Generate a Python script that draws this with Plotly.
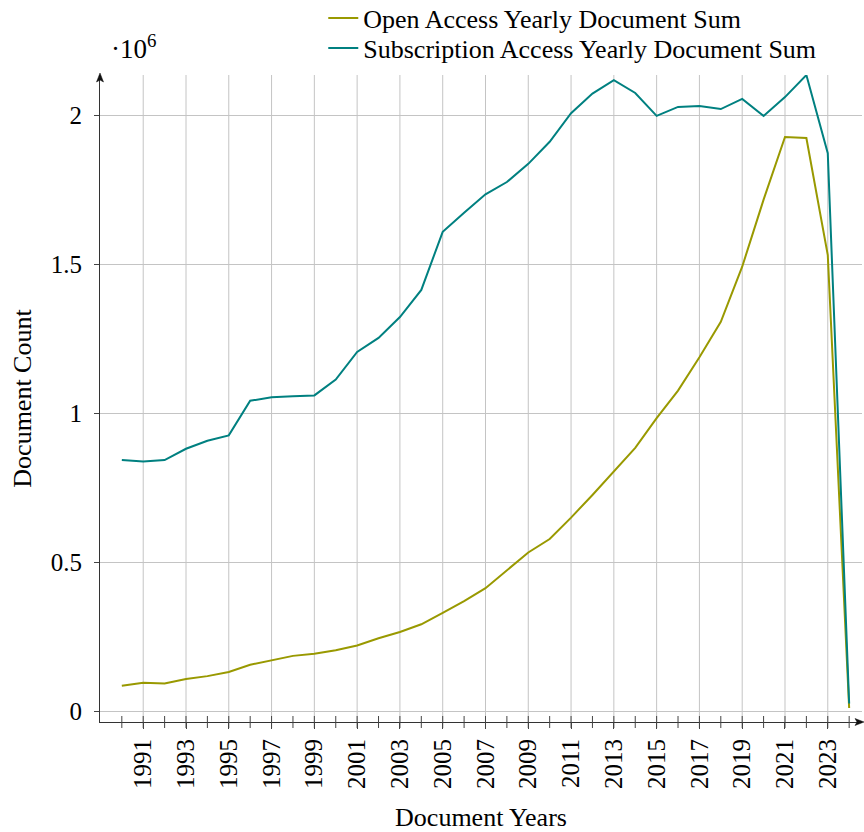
import plotly.graph_objects as go

years = list(range(1990, 2025))

open_access = [
    85000, 95000, 92000, 107000, 117000, 131000, 155000, 171000, 185000, 192000,
    204000, 220000, 244000, 265000, 291000, 329000, 369000, 412000, 472000, 532000,
    577000, 649000, 725000, 805000, 883000, 983000, 1075000, 1187000, 1306000, 1491000,
    1716000, 1926000, 1923000, 1530000, 10000,
]

subscription = [
    842000, 837000, 842000, 880000, 907000, 925000, 1041000, 1053000, 1056000, 1059000,
    1112000, 1205000, 1252000, 1322000, 1413000, 1608000, 1672000, 1734000, 1775000, 1836000,
    1910000, 2006000, 2072000, 2117000, 2074000, 1997000, 2027000, 2030000, 2020000, 2054000,
    1997000, 2060000, 2134000, 1872000, 25000,
]

x_tick_years = list(range(1991, 2024, 2))
y_tick_vals = [0, 500000, 1000000, 1500000, 2000000]
y_tick_text = ["0", "0.5", "1", "1.5", "2"]

series_names = ["Open Access Yearly Document Sum", "Subscription Access Yearly Document Sum"]
series_colors = ["#999900", "#008080"]
series_legends = ["legend", "legend2"]

FONT = "Liberation Serif"
FS_TICK = 25
FS_TITLE = 26
FS_LEG = 26

GRID = "#c4c4c4"
TICKC = "#444444"
AXC = "#333333"

x_range = [1988.98, 2024.60]
y_range = [-36913, 2134228]
plot_h = 647  # plot area height in px (832 - 75 - 110)

fig = go.Figure()
for name, vals, col, leg in zip(series_names, [open_access, subscription], series_colors,
                                series_legends):
    fig.add_trace(go.Scatter(x=years, y=vals, mode="lines", name=name, legend=leg,
                             line=dict(color=col, width=2)))

# vertical grid lines at the labelled (odd) years
for yr in x_tick_years:
    fig.add_shape(type="line", xref="x", yref="paper", x0=yr, x1=yr, y0=0, y1=1,
                  line=dict(color=GRID, width=1), layer="below")
# crossing year ticks on the x axis line
for yr in years:
    fig.add_shape(type="line", xref="x", yref="paper", x0=yr, x1=yr,
                  y0=-6 / plot_h, y1=6 / plot_h,
                  line=dict(color=TICKC, width=1), layer="above")

# arrow heads at the ends of the axis lines
fig.add_shape(type="path", xref="paper", yref="paper", xsizemode="pixel",
              ysizemode="pixel", xanchor=0, yanchor=1,
              path="M-3.5,-7 L0,2 L3.5,-7 L0,-5 Z", fillcolor="#111111",
              line=dict(color="#111111", width=0.5), layer="above")
fig.add_shape(type="path", xref="paper", yref="paper", xsizemode="pixel",
              ysizemode="pixel", xanchor=1, yanchor=0,
              path="M-7,-3.5 L2,0 L-7,3.5 L-5,0 Z", fillcolor="#111111",
              line=dict(color="#111111", width=0.5), layer="above")

leg_common = dict(xanchor="left", yanchor="middle", bgcolor="rgba(0,0,0,0)",
                  borderwidth=0, font=dict(size=FS_LEG))

fig.update_layout(
    width=864, height=832,
    margin=dict(l=100, r=2, t=75, b=110, autoexpand=False),
    paper_bgcolor="white", plot_bgcolor="white",
    font=dict(family=FONT, size=FS_TICK, color="black"),
    xaxis=dict(
        range=x_range, tickmode="array", tickvals=x_tick_years,
        ticktext=[str(y) for y in x_tick_years], tickangle=-90,
        showgrid=False,
        showline=True, linecolor=AXC, linewidth=1,
        ticks="outside", ticklen=6, tickcolor=TICKC, tickwidth=1,
        zeroline=False,
        title=dict(text="Document Years", standoff=22, font=dict(size=FS_TITLE)),
        tickfont=dict(size=FS_TICK),
    ),
    yaxis=dict(
        range=y_range, tickmode="array", tickvals=y_tick_vals, ticktext=y_tick_text,
        showgrid=True, gridcolor=GRID, gridwidth=1,
        showline=True, linecolor=AXC, linewidth=1,
        ticks="outside", ticklen=5, tickcolor=TICKC,
        zeroline=False, ticklabelstandoff=7,
        title=dict(text="Document Count", standoff=11, font=dict(size=FS_TITLE)),
        tickfont=dict(size=FS_TICK),
    ),
    legend=dict(x=0.293, y=(722 - 18) / plot_h, **leg_common),
    legend2=dict(x=0.293, y=(722 - 48) / plot_h, **leg_common),
    showlegend=True,
)

# scale multiplier label
fig.add_annotation(x=0.012, y=1.043, xref="paper", yref="paper", xanchor="left",
                   yanchor="middle", text="·10<sup>6</sup>", showarrow=False,
                   font=dict(family=FONT, size=27, color="black"))

fig.write_html("out.html", config={"displayModeBar": False},
               post_script="document.body.style.margin='0';")
